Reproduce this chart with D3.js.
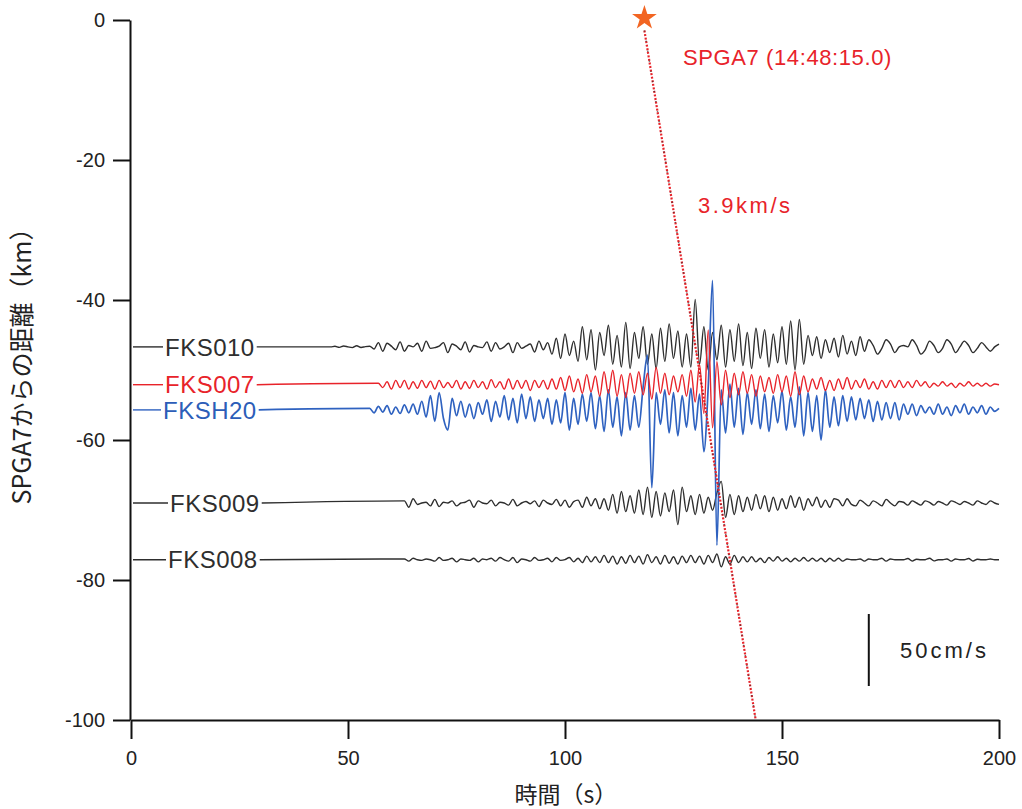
<!DOCTYPE html>
<html>
<head>
<meta charset="utf-8">
<script src="https://cdn.jsdelivr.net/npm/d3@7"></script>
<style>
  html, body { margin: 0; padding: 0; background: #ffffff; }
  svg { display: block; }
  text { font-family: "Liberation Sans", Arial, "Noto Sans CJK JP", sans-serif; }
</style>
</head>
<body>
<svg id="chart" width="1022" height="809"></svg>
<script>
// Stations, their distance from SPGA7 (km), and waveform onset time (s)
const stations = ["FKS010", "FKS007", "FKSH20", "FKS009", "FKS008"];
const stationDistance = [-46.7, -52.1, -55.7, -69.0, -77.1];
const onsetTime = [46, 57, 55, 63, 63];
const sampleStep = 1; // s

// Velocity waveforms (cm/s), one sample per second from the onset time
const fks010 = [
  0, 0.4, -0.3, 0.6, 0, -0.5, 0.8, -0.4, 0.2, 0.5,
  -1.5, 3, -3, 2.5, 0.5, -2, 3.5, -3, 1, 0,
  2.5, -3, 4, -1, -0.5, 0.5, 3, -4, 2, 0.5,
  -2, 3.5, -3.5, 1, 0, -0.5, 3.5, -3, 3, -1.5,
  0, 2.5, -4, 3, -1, 0.5, 2, -3.5, 4, -2,
  3, -5, 6, -8, 9, -6, 4, -10, 14, -9,
  12, -16, 10, -6, 15, -12, 8, -14, 17, -15,
  10, -8, 14, -12, 9, -15, 13, -10, 16, -8,
  11, -14, 9, -14, 33, -12, 14, -16, 10, -9,
  15, -14, 12, -10, 16, -13, 10, -15, 13, -8,
  12, -14, 9, -11, 14, -12, 18, -16, 19, -12,
  8, -6, 7, -8, 5, -4, 6, -7, 8, -5,
  4, -6, 7, -3,
  5, 1, -5, -1, 5, 2, -4, 0, 1, 0,
  5, 1, -5, -2, 4, 1, -4, -1, 5, 2,
  -4, 0, 4, 1, -4, -1, 3, 0, -3, 0, 2
];
const fks007 = [
  1, -2, 2, -3, 3, -2, 3, -3, 2, -2.5,
  3, -2, 2.5, -3, 3, -2, 1.5, -2, 3, -3,
  2, -2.5, 3, -2, 2, -3, 3.5, -2, 2, -3,
  4, -3, 3, -2.5, 3, -4, 3, -2, 3, -3,
  4, -3, 5, -4, 6, -5, 4, -6, 7, -5,
  6, -8, 9, -6, 10, -8, 7, -9, 8, -6,
  9, -7, 8, -10, 12, -6, 8, -7, 6, -5,
  7, -8, 10, -12, 14, -20, 38, -30, 16, -14,
  10, -9, 8, -7, 9, -6, 7, -8, 6, -5,
  5, -6, 7, -5, 6, -8, 9, -7, 6, -5,
  4, -3, 5, -4, 3, -4, 4, -3, 5, -3,
  3, -2, 4, -3, 2, -3, 3, -2, 3, -2,
  3, -2, 2, -2, 3, -1, 2, -2, 1, -1,
  2, -1, 1, -2, 1, -1, 2, -1, 1, -1,
  1, -1, 0.5, 0
];
const fksh20 = [
  1, -2, 2.5, -1.5, 3, -3, 2, -2.5, 3.5, -2,
  4, -3, 6, -5, 10, -8, 12, -6, -14, 8,
  -4, 6, -5, 4, -6, 5, -3, 7, -8, 6,
  -5, 10, -7, 8, -9, 11, -6, 9, -8, 7,
  -6, 8, -10, 7, -9, 12, -14, 8, -10, 11,
  -8, 12, -13, 10, -15, 14, -12, 9, -18, 12,
  -14, 10, -12, 16, 38, -54, 12, -10, 14, -16,
  12, -18, 10, -12, 15, -14, 11, -29, 16, 90,
  -94, 14, -16, 18, -12, 15, -17, 12, -10, 14,
  -13, 11, -15, 10, -9, 13, -14, 9, -12, 16,
  -18, 12, -15, 10, -21, 14, -12, 9, -11, 10,
  -8, 9, -7, 8, -6, 7, -8, 6, -7, 5,
  -6, 5, -7, 4, -3, 4, -4, 3, -2, 2,
  -3, 4, -3, 2, -4, 3, -2, 4, -3, 2,
  -2, 3, -3, 2, -1, 1
];
const fks009 = [
  1.5, -3, 3, -1, 0, 0.5, -2, 2.5, -2.5, 0.5,
  0, 1.5, -2, 0, 0.5, 2, -3, 1.5, 0, -0.5,
  2, -2, 0.5, 0, -1.5, 2.5, -2, 0, 1, -0.5,
  1.5, -2.5, 2, 0, -1, 2.5, -2, 2, -3, 1,
  2, -3, 4, -2, 3, -4, 3, -5, 6, -7,
  8, -6, 5, -7, 9, -8, 11, -10, 8, -9,
  7, -6, 9, -15, 11, -6, 5, -8, 6, -7,
  4, -5, 7, 15, -10, 6, -8, 5, -6, 4,
  -5, 6, -4, 5, -6, 4, -5, 3, -4, 5,
  -3, 4, -5, 3, -2, 4, -3, 2, -3, 3,
  2, -2, 3, -1, -2, 2, 0, -2, 1.5, 0,
  -2, 2.5, 0, -2, 1, 0.5, -1.5, 1.5, 0, -1.5,
  1.5, 0.5, -1.5, 1, 0, -1.5, 1.5, 0.5, -1, 1,
  0, -1.5, 1.5, 0, -1, 1.5, 0, -1
];
const fks008 = [
  0.5, -1, 1, 0, -0.5, 0.5, 0, -1, 1.5, -0.5,
  0, 1, -1.5, 0.5, 0, -0.5, 1, -1.5, 0.5, 0,
  1, -1, 1.5, 0, -1, 1.5, -2, 0.5, 0, -1,
  1.5, -0.5, 0, 1, -1.5, 1.5, -0.5, 0, 1.5, -1.5,
  1, -2, 2.5, -1.5, 2, -2, 3, -2, 2.5, -3,
  2, -2.5, 3, -2, 2.5, -3, 3.5, -2, 2, -3,
  3, -2.5, 2, -3, 2.5, -2, 3, -2, 2.5, -3,
  3, -2, 4, -5, 2, -3, 3, -2, 2, -1.5,
  2, -1.5, 1, -2, 1.5, -1, 2, -1, 1, -1.5,
  1, -1, 1.5, -1, 1, -1, 1, -1.5, 1, -1,
  1, -1, 0.5, 0, 0, 0.5, -1, 0.5, 0, 0,
  1, -1, 0.5, 0, 0, 0, 0.8, -1, 0.3, 0,
  0, 1, -0.8, 0, 0, 0.5, -1, 0.5, 0, 0,
  0.8, -1, 0.3, 0, 0, 0.5, 0, 0
];
const waveforms = [fks010, fks007, fksh20, fks009, fks008];

// Axis ticks
const xTicks = [0, 50, 100, 150, 200];
const yTicks = [0, -20, -40, -60, -80, -100];

// Source and apparent velocity
const sourceName = "SPGA7";
const originTimeLabel = "14:48:15.0";
const sourceTime = 118.3;    // s, star position on the time axis
const apparentVelocity = 3.9; // km/s
const scaleBarValue = 50;     // cm/s
const scaleBarTime = 170;     // s
const scaleBarDistance = -90; // km

// ---------------------------------------------------------------
const svg = d3.select("#chart");
const x = d3.scaleLinear().domain([0, 200]).range([131, 999]);
const y = d3.scaleLinear().domain([0, -100]).range([20, 720]);
const amp = d3.scaleLinear().domain([0, 50]).range([0, 72]); // cm/s -> px

const traceColor = ["#2e2e2e", "#e8232a", "#2f62c0", "#2e2e2e", "#2e2e2e"];
const labelColor = ["#2e2e2e", "#e8232a", "#2c5db8", "#2e2e2e", "#2e2e2e"];
const labelX = [165, 165, 163, 170, 168];
const drawOrder = [0, 3, 4, 2, 1];

// Axes
const gx = svg.append("g")
  .attr("transform", `translate(0,${y(-100)})`)
  .call(d3.axisBottom(x).tickValues(xTicks).tickSize(19).tickSizeOuter(0).tickPadding(12));
const gy = svg.append("g")
  .attr("transform", `translate(${x(0) - 1},0)`)
  .call(d3.axisLeft(y).tickValues(yTicks).tickSize(17).tickSizeOuter(0).tickPadding(8)
    .tickFormat(d => d === 0 ? "0" : "-" + Math.abs(d)));
[gx, gy].forEach(g => {
  g.select(".domain").attr("stroke", "#111").attr("stroke-width", 2);
  g.selectAll(".tick line").attr("stroke", "#111").attr("stroke-width", 2);
  g.selectAll(".tick text").attr("fill", "#222").style("font-size", "20px")
    .style("font-family", "'Liberation Sans', Arial, sans-serif");
});

// Axis titles
svg.append("text")
  .attr("x", 566).attr("y", 803)
  .attr("text-anchor", "middle")
  .attr("fill", "#222")
  .style("font-size", "23px")
  .style("font-family", "'Noto Sans CJK JP', sans-serif")
  .text("時間（s）");
svg.append("text")
  .attr("transform", `translate(31,360) rotate(-90)`)
  .attr("text-anchor", "middle")
  .attr("fill", "#222")
  .style("font-size", "25px")
  .style("font-family", "'Noto Sans CJK JP', sans-serif")
  .text("SPGA7からの距離（km）");

// Station labels with baseline leaders, then waveforms
const line = d3.line().x(d => x(d[0])).y(d => d[1]).curve(d3.curveMonotoneX);
const labelEnds = [];
stations.forEach((name, i) => {
  const y0 = y(stationDistance[i]);
  const t = svg.append("text")
    .attr("x", labelX[i]).attr("y", y0).attr("dy", "0.36em")
    .attr("fill", labelColor[i])
    .style("font-size", "24px")
    .style("letter-spacing", "0.5px")
    .text(name);
  labelEnds[i] = labelX[i] + t.node().getComputedTextLength();
  svg.append("line")
    .attr("x1", 133).attr("x2", labelX[i] - 2)
    .attr("y1", y0).attr("y2", y0)
    .attr("stroke", traceColor[i]).attr("stroke-width", 1.4);
});

drawOrder.forEach(i => {
  const y0 = y(stationDistance[i]);
  const pts = [[x.invert(labelEnds[i] + 2), y0]];
  waveforms[i].forEach((v, k) => pts.push([onsetTime[i] + k * sampleStep, y0 - amp(v)]));
  svg.append("path")
    .attr("d", line(pts))
    .attr("fill", "none")
    .attr("stroke", traceColor[i])
    .attr("stroke-width", i === 2 ? 1.7 : 1.4)
    .attr("stroke-linejoin", "round");
});

// Apparent-velocity line from the source
const tEnd = sourceTime + 100 / apparentVelocity;
svg.append("line")
  .attr("x1", x(sourceTime)).attr("y1", y(-1.5))
  .attr("x2", x(tEnd)).attr("y2", y(-100))
  .attr("stroke", "#e8232a").attr("stroke-width", 2.2)
  .attr("stroke-dasharray", "2,1.6");
svg.append("line")
  .attr("x1", x(sourceTime)).attr("y1", y(-1.5))
  .attr("x2", x(tEnd)).attr("y2", y(-100))
  .attr("stroke", "#333").attr("stroke-width", 1.4)
  .attr("stroke-dasharray", "1.2,9").attr("opacity", 0.7);

// Source star
svg.append("path")
  .attr("d", d3.symbol().type(d3.symbolStar).size(190)())
  .attr("transform", `translate(${x(sourceTime)},${y(0) - 2})`)
  .attr("fill", "#f26522");

svg.append("text")
  .attr("x", 683).attr("y", 57).attr("dy", "0.36em")
  .attr("fill", "#e8232a")
  .style("font-size", "22px")
  .style("letter-spacing", "0.6px")
  .text(`${sourceName} (${originTimeLabel})`);
svg.append("text")
  .attr("x", 698).attr("y", 205).attr("dy", "0.36em")
  .attr("fill", "#e8232a")
  .style("font-size", "22px")
  .style("letter-spacing", "2.5px")
  .text(`${apparentVelocity}km/s`);

// Amplitude scale bar
const by = y(scaleBarDistance);
svg.append("line")
  .attr("x1", x(scaleBarTime)).attr("x2", x(scaleBarTime))
  .attr("y1", by - amp(scaleBarValue) / 2).attr("y2", by + amp(scaleBarValue) / 2)
  .attr("stroke", "#111").attr("stroke-width", 2);
svg.append("text")
  .attr("x", 900).attr("y", by).attr("dy", "0.36em")
  .attr("fill", "#222")
  .style("font-size", "22px")
  .style("letter-spacing", "3px")
  .text(`${scaleBarValue}cm/s`);
</script>
</body>
</html>
